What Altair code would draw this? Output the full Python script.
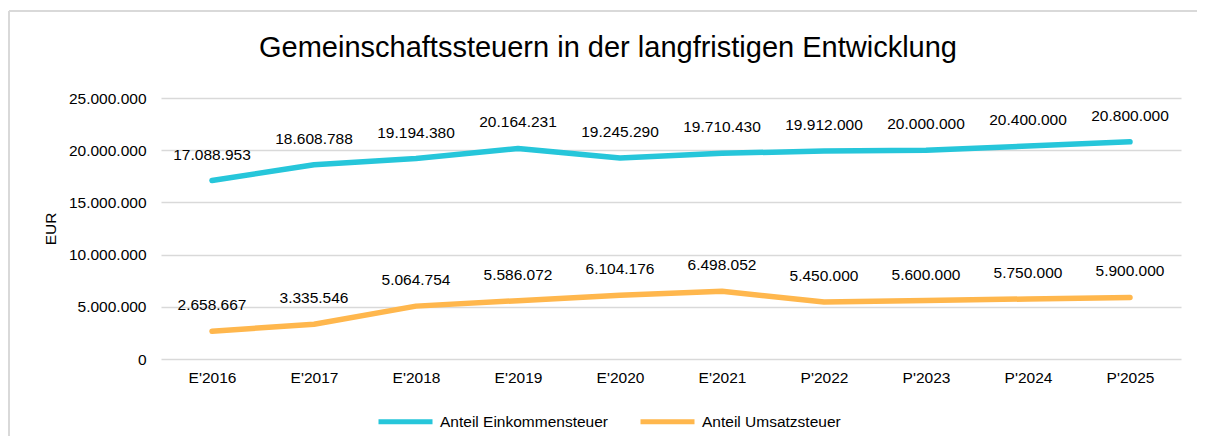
import altair as alt
import pandas as pd

categories = ["E'2016", "E'2017", "E'2018", "E'2019", "E'2020", "E'2021",
              "P'2022", "P'2023", "P'2024", "P'2025"]
einkommensteuer = [17088953, 18608788, 19194380, 20164231, 19245290, 19710430,
                   19912000, 20000000, 20400000, 20800000]
umsatzsteuer = [2658667, 3335546, 5064754, 5586072, 6104176, 6498052,
                5450000, 5600000, 5750000, 5900000]
series_names = ["Anteil Einkommensteuer", "Anteil Umsatzsteuer"]
series_colors = ["#26C6DA", "#FFB74D"]
y_ticks = [0, 5000000, 10000000, 15000000, 20000000, 25000000]

rows = []
for name, vals in zip(series_names, [einkommensteuer, umsatzsteuer]):
    for c, v in zip(categories, vals):
        rows.append({"Jahr": c, "Wert": v, "Serie": name,
                     "Label": f"{v:,}".replace(",", ".")})
df = pd.DataFrame(rows)

FONT = "Liberation Sans"
FS = 15.5
W, H = 1020, 261

x_enc = alt.X("Jahr:N", sort=categories,
              scale=alt.Scale(type="point", padding=0.5),
              axis=alt.Axis(title=None, labelAngle=0, labelFontSize=FS,
                            labelColor="#000000", labelPadding=11,
                            domain=False, ticks=False, grid=False, labelFont=FONT))
y_enc = alt.Y("Wert:Q", scale=alt.Scale(domain=[0, 25000000], nice=False),
              axis=alt.Axis(title="EUR", values=y_ticks,
                            labelExpr="replace(format(datum.value, ','), /,/g, '.')",
                            labelFontSize=FS, labelColor="#000000", labelPadding=15,
                            labelFont=FONT, domain=False, ticks=False,
                            gridColor="#D9D9D9", gridWidth=1.5,
                            titleFontSize=FS, titleFont=FONT, titleFontWeight="normal",
                            titleColor="#000000", titleX=-111, titleY=H / 2,
                            titleAlign="center", titleBaseline="middle", titleAngle=-90))

color_enc = alt.Color("Serie:N",
                      scale=alt.Scale(domain=series_names, range=series_colors),
                      legend=alt.Legend(title=None, orient="none", direction="horizontal",
                                        legendX=215, legendY=294,
                                        symbolType="stroke", symbolSize=2916,
                                        symbolStrokeWidth=5, labelFontSize=FS,
                                        labelFont=FONT, labelColor="#000000",
                                        labelLimit=400,
                                        labelOffset=5, columnPadding=22))

lines = alt.Chart(df).mark_line(strokeWidth=5.5, strokeCap="round",
                                strokeJoin="round").encode(
    x=x_enc, y=y_enc, color=color_enc)

labels = alt.Chart(df).mark_text(dy=-26, fontSize=FS, font=FONT,
                                 color="#000000").encode(
    x=alt.X("Jahr:N", sort=categories), y="Wert:Q", text="Label:N")

border_left = alt.Chart(alt.Data(values=[{}])).mark_rule(
    color="#D9D9D9", strokeWidth=2).encode(
    x=alt.value(-152), y=alt.value(-87), y2=alt.value(338))
border_top = alt.Chart(alt.Data(values=[{}])).mark_rule(
    color="#D9D9D9", strokeWidth=2).encode(
    x=alt.value(-152), x2=alt.value(1036), y=alt.value(-87))

chart = alt.layer(border_left, border_top, lines, labels).properties(
    width=W, height=H,
    title=alt.TitleParams("Gemeinschaftssteuern in der langfristigen Entwicklung",
                          fontSize=29, font=FONT, fontWeight="normal",
                          color="#000000", anchor="middle", frame="group",
                          baseline="alphabetic", dx=-63, offset=-76),
    autosize=alt.AutoSizeParams(type="none"),
    padding={"left": 153, "top": 90, "right": 16, "bottom": 77},
).configure_view(stroke=None)

chart.save("out.html", embed_options={"renderer": "svg", "actions": False})
